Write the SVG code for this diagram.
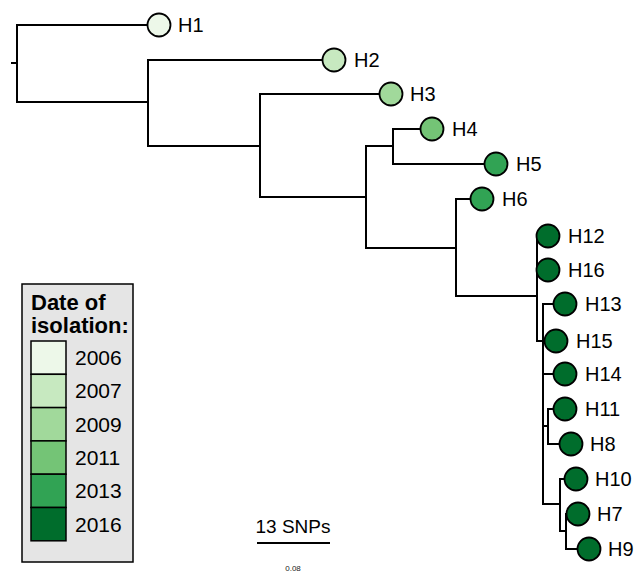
<svg xmlns="http://www.w3.org/2000/svg" width="634" height="574" viewBox="0 0 634 574">
<style>
.br{fill:none;stroke:#000;stroke-width:2;stroke-linecap:square}
.tip{stroke:#000;stroke-width:1.8}
.lbl{font-family:"Liberation Sans",Arial,sans-serif;font-size:20px;fill:#000}
.yr{font-family:"Liberation Sans",Arial,sans-serif;font-size:21px;fill:#000}
.ttl{font-family:"Liberation Sans",Arial,sans-serif;font-size:22px;font-weight:bold;fill:#000}
.c06{fill:#edf8e9}.c07{fill:#c7e9c0}.c09{fill:#a1d99b}.c11{fill:#74c476}.c13{fill:#31a354}.c16{fill:#006d2c}
.sw{stroke:#000;stroke-width:1.5}
</style>
<rect width="634" height="574" fill="#fff"/>
<g id="connectors">
<path class="br" d="M12,63H17M17,25V102M17,25H148M17,102H148M148,60V146M148,60H322M148,146H260M260,94V197M260,94H380M260,197H366M366,146V248M366,146H393M393,129V164M393,129H421M393,164H485M366,248H456M456,199V296M456,199H471M456,296H537M537,236V341M537,341H545M543,304V504M543,304H553M543,374H553M543,426H548M548,409V444M548,409H553M548,444H559M543,504H560M560,479V531M560,479H564M560,531H566M566,514V549M566,549H577"/>
</g>
<g id="H1"><circle class="tip c06" cx="159" cy="25" r="11.5"/><text class="lbl" x="178" y="32">H1</text></g>
<g id="H2"><circle class="tip c07" cx="334" cy="60" r="11.5"/><text class="lbl" x="354" y="67">H2</text></g>
<g id="H3"><circle class="tip c09" cx="391" cy="94" r="11.5"/><text class="lbl" x="410" y="101">H3</text></g>
<g id="H4"><circle class="tip c11" cx="432" cy="129" r="11.5"/><text class="lbl" x="452" y="136">H4</text></g>
<g id="H5"><circle class="tip c13" cx="496" cy="164" r="11.5"/><text class="lbl" x="516" y="171">H5</text></g>
<g id="H6"><circle class="tip c13" cx="482" cy="199" r="11.5"/><text class="lbl" x="502" y="206">H6</text></g>
<g id="H12"><circle class="tip c16" cx="548" cy="236" r="11.5"/><text class="lbl" x="568" y="243">H12</text></g>
<g id="H16"><circle class="tip c16" cx="548" cy="270" r="11.5"/><text class="lbl" x="568" y="277">H16</text></g>
<g id="H13"><circle class="tip c16" cx="565" cy="304" r="11.5"/><text class="lbl" x="585" y="311">H13</text></g>
<g id="H15"><circle class="tip c16" cx="556" cy="341" r="11.5"/><text class="lbl" x="576" y="348">H15</text></g>
<g id="H14"><circle class="tip c16" cx="565" cy="374" r="11.5"/><text class="lbl" x="585" y="381">H14</text></g>
<g id="H11"><circle class="tip c16" cx="565" cy="409" r="11.5"/><text class="lbl" x="585" y="416">H11</text></g>
<g id="H8"><circle class="tip c16" cx="571" cy="444" r="11.5"/><text class="lbl" x="590" y="451">H8</text></g>
<g id="H10"><circle class="tip c16" cx="576" cy="479" r="11.5"/><text class="lbl" x="595" y="486">H10</text></g>
<g id="H7"><circle class="tip c16" cx="578" cy="514" r="11.5"/><text class="lbl" x="597" y="521">H7</text></g>
<g id="H9"><circle class="tip c16" cx="589" cy="549" r="11.5"/><text class="lbl" x="608" y="556">H9</text></g>
<g id="legend">
<rect x="22" y="284" width="111" height="278" fill="#e5e5e5" stroke="#000" stroke-width="1.5"/>
<text class="ttl" x="31" y="310">Date of</text>
<text class="ttl" x="31" y="333">isolation:</text>
<rect class="sw c06" x="31" y="341" width="35" height="33.3"/>
<rect class="sw c07" x="31" y="374.3" width="35" height="33.3"/>
<rect class="sw c09" x="31" y="407.6" width="35" height="33.3"/>
<rect class="sw c11" x="31" y="440.9" width="35" height="33.3"/>
<rect class="sw c13" x="31" y="474.2" width="35" height="33.3"/>
<rect class="sw c16" x="31" y="507.5" width="35" height="33.3"/>
<text class="yr" x="75" y="365">2006</text>
<text class="yr" x="75" y="398.3">2007</text>
<text class="yr" x="75" y="431.6">2009</text>
<text class="yr" x="75" y="464.9">2011</text>
<text class="yr" x="75" y="498.2">2013</text>
<text class="yr" x="75" y="531.5">2016</text>
</g>
<g id="scale">
<text x="293" y="533" text-anchor="middle" font-family="Liberation Sans, Arial, sans-serif" font-size="19" fill="#000">13 SNPs</text>
<line x1="257" y1="543" x2="330" y2="543" stroke="#000" stroke-width="2"/>
<text x="293" y="571" text-anchor="middle" font-family="Liberation Sans, Arial, sans-serif" font-size="8" fill="#222">0.08</text>
</g>
</svg>
